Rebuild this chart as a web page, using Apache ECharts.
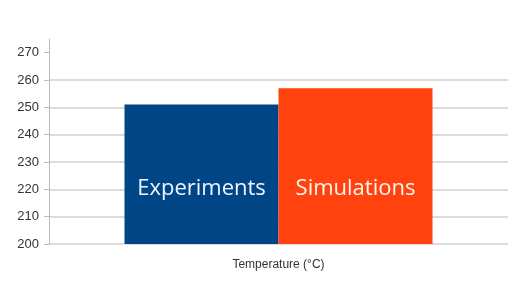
<!DOCTYPE html>
<html><head><meta charset="utf-8">
<script src="https://cdn.jsdelivr.net/npm/echarts@6/dist/echarts.min.js"></script>
<style>html,body{margin:0;padding:0;background:#fff}#c{width:520px;height:299px}</style>
</head><body><div id="c"></div>
<script>
const categories = ['Temperature (°C)'];
const seriesNames = ['Experiments', 'Simulations'];
const experiments = [251];
const simulations = [257];
const tickValues = [200, 210, 220, 230, 240, 250, 260, 270];

const chart = echarts.init(document.getElementById('c'));
chart.setOption({
  animation: false,
  grid: { left: 49, right: 12, top: 39, bottom: 55 },
  xAxis: {
    type: 'category', data: categories,
    axisLine: { show: false }, axisTick: { show: false },
    axisLabel: { color: '#333', fontFamily: 'Liberation Sans', fontSize: 12, margin: 15 }
  },
  yAxis: {
    type: 'value', min: 200, max: 275, interval: 10,
    axisLine: { show: true, lineStyle: { color: '#bbb', width: 1 } },
    axisTick: { show: true, length: 5, customValues: tickValues, lineStyle: { color: '#bbb' } },
    axisLabel: { customValues: tickValues, color: '#333', fontFamily: 'Liberation Sans', fontSize: 13, margin: 10 },
    splitLine: { show: true, showMaxLine: false, lineStyle: { color: '#d0d0d0', width: 1.5 } }
  },
  series: [
    { name: seriesNames[0], type: 'bar', data: experiments, barWidth: 154, barGap: '0%',
      itemStyle: { color: '#004586' },
      label: { show: true, position: 'insideBottom', distance: 44, formatter: seriesNames[0],
        color: '#f0f4ff', fontFamily: 'Open Sans', fontSize: 22 } },
    { name: seriesNames[1], type: 'bar', data: simulations, barWidth: 154, barGap: '0%',
      itemStyle: { color: '#ff420e' },
      label: { show: true, position: 'insideBottom', distance: 44, formatter: seriesNames[1],
        color: '#fff4ee', fontFamily: 'Open Sans', fontSize: 22 } }
  ]
});
</script></body></html>
